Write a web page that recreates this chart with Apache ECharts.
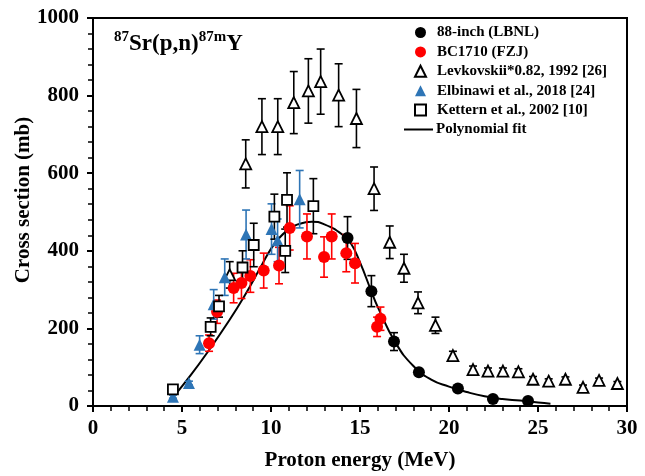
<!DOCTYPE html>
<html>
<head>
<meta charset="utf-8">
<script src="https://cdn.jsdelivr.net/npm/echarts@6/dist/echarts.min.js"></script>
<style>
  html, body { margin: 0; padding: 0; background: #fff; }
  #chart { width: 645px; height: 476px; }
</style>
</head>
<body>
<div id="chart"></div>
<script>
// data (energy MeV, cross section mb, error mb)
var lbnlX = [14.3, 15.64, 16.91, 18.31, 20.5, 22.47, 24.44];
var lbnlY = [433, 296, 166, 87, 45, 18, 13];
var lbnlErr = [55, 40, 23, 8, 4, 3, 2];

var fzjX = [6.52, 6.97, 7.9, 8.34, 8.84, 9.59, 10.45, 11.05, 12.02, 12.98, 13.41, 14.23, 14.72, 15.96, 16.15];
var fzjY = [162, 243, 304, 317, 335, 349, 362, 459, 437, 384, 437, 394, 368, 204, 225];
var fzjErr = [21, 30, 38, 40, 42, 45, 47, 57, 58, 52, 58, 48, 51, 25, 30];

var levX = [7.68, 8.58, 9.49, 10.38, 11.28, 12.1, 12.79, 13.8, 14.8, 15.79, 16.67, 17.47, 18.26, 19.24, 20.22, 21.35, 22.19, 23.03, 23.9, 24.72, 25.6, 26.54, 27.53, 28.43, 29.46];
var levY = [338, 624, 720, 720, 782, 812, 836, 801, 741, 560, 422, 355, 266, 208, 130, 94, 90, 90, 88, 69, 64, 69, 48, 66, 58];
var levErr = [34, 62, 72, 72, 80, 83, 84, 81, 75, 56, 42, 36, 28, 21, 11, 9, 8, 8, 8, 7, 6, 6, 6, 6, 5];

var elbX = [4.49, 5.39, 5.99, 6.78, 7.4, 8.6, 10.03, 10.37, 11.61];
var elbY = [24, 59, 158, 262, 332, 442, 456, 427, 533];
var elbErr = [4, 5, 23, 38, 47, 63, 65, 55, 74];

var ketX = [4.49, 6.61, 7.08, 8.4, 9.03, 10.19, 10.8, 10.9, 12.38];
var ketY = [43, 204, 257, 357, 415, 488, 400, 531, 515];
var ketErr = [5, 23, 28, 43, 56, 58, 56, 70, 71];

var fitX = [4.6, 5.5, 6.5, 7.5, 8.5, 9.5, 10.0, 10.5, 11.0, 11.5, 12.3, 13.0, 14.0, 14.5, 15.0, 15.6, 16.0, 17.0, 18.0, 19.0, 20.0, 21.0, 22.0, 23.0, 24.0, 25.0, 25.7];
var fitY = [28, 80, 143, 210, 283, 365, 405, 435, 455, 468, 475, 468, 442, 418, 370, 300, 255, 163, 103, 68, 50, 36, 25, 18, 14, 9, 6];

var xTicks = [0, 5, 10, 15, 20, 25, 30];
var yTicks = [0, 200, 400, 600, 800, 1000];

var FONT = 'Liberation Serif';
var BLUE = '#2E75B6';
var RED = '#FF0000';

function pairs(xs, ys) {
  return xs.map(function (x, i) { return [x, ys[i]]; });
}
function triples(xs, ys, es) {
  return xs.map(function (x, i) { return [x, ys[i], es[i]]; });
}

// error bar with caps, drawn through the axes
function errorBar(color, width) {
  return function (params, api) {
    var x = api.value(0), y = api.value(1), e = api.value(2);
    var top = api.coord([x, y + e]);
    var bot = api.coord([x, y - e]);
    var h = 4;
    var st = { stroke: color, lineWidth: width };
    return {
      type: 'group',
      children: [
        { type: 'line', shape: { x1: top[0], y1: top[1], x2: bot[0], y2: bot[1] }, style: st },
        { type: 'line', shape: { x1: top[0] - h, y1: top[1], x2: top[0] + h, y2: top[1] }, style: st },
        { type: 'line', shape: { x1: bot[0] - h, y1: bot[1], x2: bot[0] + h, y2: bot[1] }, style: st }
      ]
    };
  };
}

function errSeries(xs, ys, es, color) {
  return {
    type: 'custom',
    silent: true,
    z: 2,
    renderItem: errorBar(color, 1.6),
    encode: { x: 0, y: 1 },
    data: triples(xs, ys, es)
  };
}

var chart = echarts.init(document.getElementById('chart'), null, { renderer: 'canvas' });

var option = {
  animation: false,
  backgroundColor: '#fff',
  grid: {
    left: 93, right: 18, top: 18, bottom: 65,
    show: true, borderColor: '#000', borderWidth: 2
  },
  xAxis: {
    type: 'value', min: 0, max: 30, interval: 5,
    name: 'Proton energy (MeV)', nameLocation: 'middle', nameGap: 44,
    nameTextStyle: { fontFamily: FONT, fontWeight: 'bold', fontSize: 21, color: '#000' },
    axisLine: { lineStyle: { color: '#000', width: 2 } },
    axisTick: { length: 6, lineStyle: { color: '#000', width: 2 } },
    minorTick: { show: true, splitNumber: 5, length: 5, lineStyle: { color: '#000', width: 1.5 } },
    splitLine: { show: false },
    axisLabel: {
      margin: 12, fontFamily: FONT, fontWeight: 'bold', fontSize: 21, color: '#000',
      formatter: function (v) { return xTicks.indexOf(v) >= 0 ? String(v) : ''; }
    }
  },
  yAxis: {
    type: 'value', min: 0, max: 1000, interval: 200,
    axisLine: { show: true, lineStyle: { color: '#000', width: 2 } },
    axisTick: { show: true, length: 6, lineStyle: { color: '#000', width: 2 } },
    minorTick: { show: true, splitNumber: 5, length: 5, lineStyle: { color: '#000', width: 1.5 } },
    splitLine: { show: false },
    axisLabel: {
      margin: 14, fontFamily: FONT, fontWeight: 'bold', fontSize: 21, color: '#000',
      formatter: function (v) { return yTicks.indexOf(v) >= 0 ? String(v) : ''; }
    }
  },
  legend: [
    {
      orient: 'vertical', left: 414, top: 23, padding: 0, itemGap: 0.4,
      itemWidth: 11, itemHeight: 11,
      textStyle: { fontFamily: FONT, fontWeight: 'bold', fontSize: 15, color: '#000', lineHeight: 19, padding: [0, 0, 0, 6] },
      data: ['88-inch (LBNL)', 'BC1710 (FZJ)', 'Levkovskii*0.82, 1992 [26]', 'Elbinawi et al., 2018 [24]', 'Kettern et al., 2002 [10]']
    },
    {
      orient: 'vertical', left: 404, top: 120, padding: 0,
      itemWidth: 29, itemHeight: 2,
      textStyle: { fontFamily: FONT, fontWeight: 'bold', fontSize: 15, color: '#000', lineHeight: 19, padding: [0, 0, 0, -2] },
      data: [{ name: 'Polynomial fit', icon: 'rect' }]
    }
  ],
  graphic: [
    {
      type: 'text', left: 114, top: 30, z: 10,
      style: {
        text: '{s|87}{m|Sr(p,n)}{s|87m}{m|Y}',
        rich: {
          m: { fontFamily: FONT, fontWeight: 'bold', fontSize: 23, color: '#000', lineHeight: 26, verticalAlign: 'bottom' },
          s: { fontFamily: FONT, fontWeight: 'bold', fontSize: 15, color: '#000', lineHeight: 26, verticalAlign: 'top', padding: [0, 0, 10, 0] }
        }
      }
    },
    {
      type: 'text', x: 24, y: 200, rotation: Math.PI / 2, z: 10,
      style: {
        text: 'Cross section (mb)', align: 'center', verticalAlign: 'middle',
        fontFamily: FONT, fontWeight: 'bold', fontSize: 21, fill: '#000'
      }
    }
  ],
  series: [
    {
      name: 'Polynomial fit', type: 'line', smooth: true, symbol: 'none', z: 1,
      lineStyle: { color: '#000', width: 2 }, itemStyle: { color: '#000' },
      data: pairs(fitX, fitY)
    },
    errSeries(lbnlX, lbnlY, lbnlErr, '#000'),
    errSeries(fzjX, fzjY, fzjErr, RED),
    errSeries(levX, levY, levErr, '#000'),
    errSeries(elbX, elbY, elbErr, BLUE),
    errSeries(ketX, ketY, ketErr, '#000'),
    {
      name: '88-inch (LBNL)', type: 'scatter', symbol: 'circle', symbolSize: 12, z: 3,
      itemStyle: { color: '#000', opacity: 1 },
      data: pairs(lbnlX, lbnlY)
    },
    {
      name: 'BC1710 (FZJ)', type: 'scatter', symbol: 'circle', symbolSize: 12, z: 3,
      itemStyle: { color: RED, opacity: 1 },
      data: pairs(fzjX, fzjY)
    },
    {
      name: 'Levkovskii*0.82, 1992 [26]', type: 'scatter', symbol: 'triangle', symbolSize: 11, z: 3,
      itemStyle: { color: '#fff', borderColor: '#000', borderWidth: 1.8, opacity: 1 },
      data: pairs(levX, levY)
    },
    {
      name: 'Elbinawi et al., 2018 [24]', type: 'scatter', symbol: 'triangle', symbolSize: 12, z: 3,
      itemStyle: { color: BLUE, opacity: 1 },
      data: pairs(elbX, elbY)
    },
    {
      name: 'Kettern et al., 2002 [10]', type: 'scatter', symbol: 'rect', symbolSize: 10, z: 3,
      itemStyle: { color: '#fff', borderColor: '#000', borderWidth: 1.8, opacity: 1 },
      data: pairs(ketX, ketY)
    }
  ]
};

chart.setOption(option);
</script>
</body>
</html>
